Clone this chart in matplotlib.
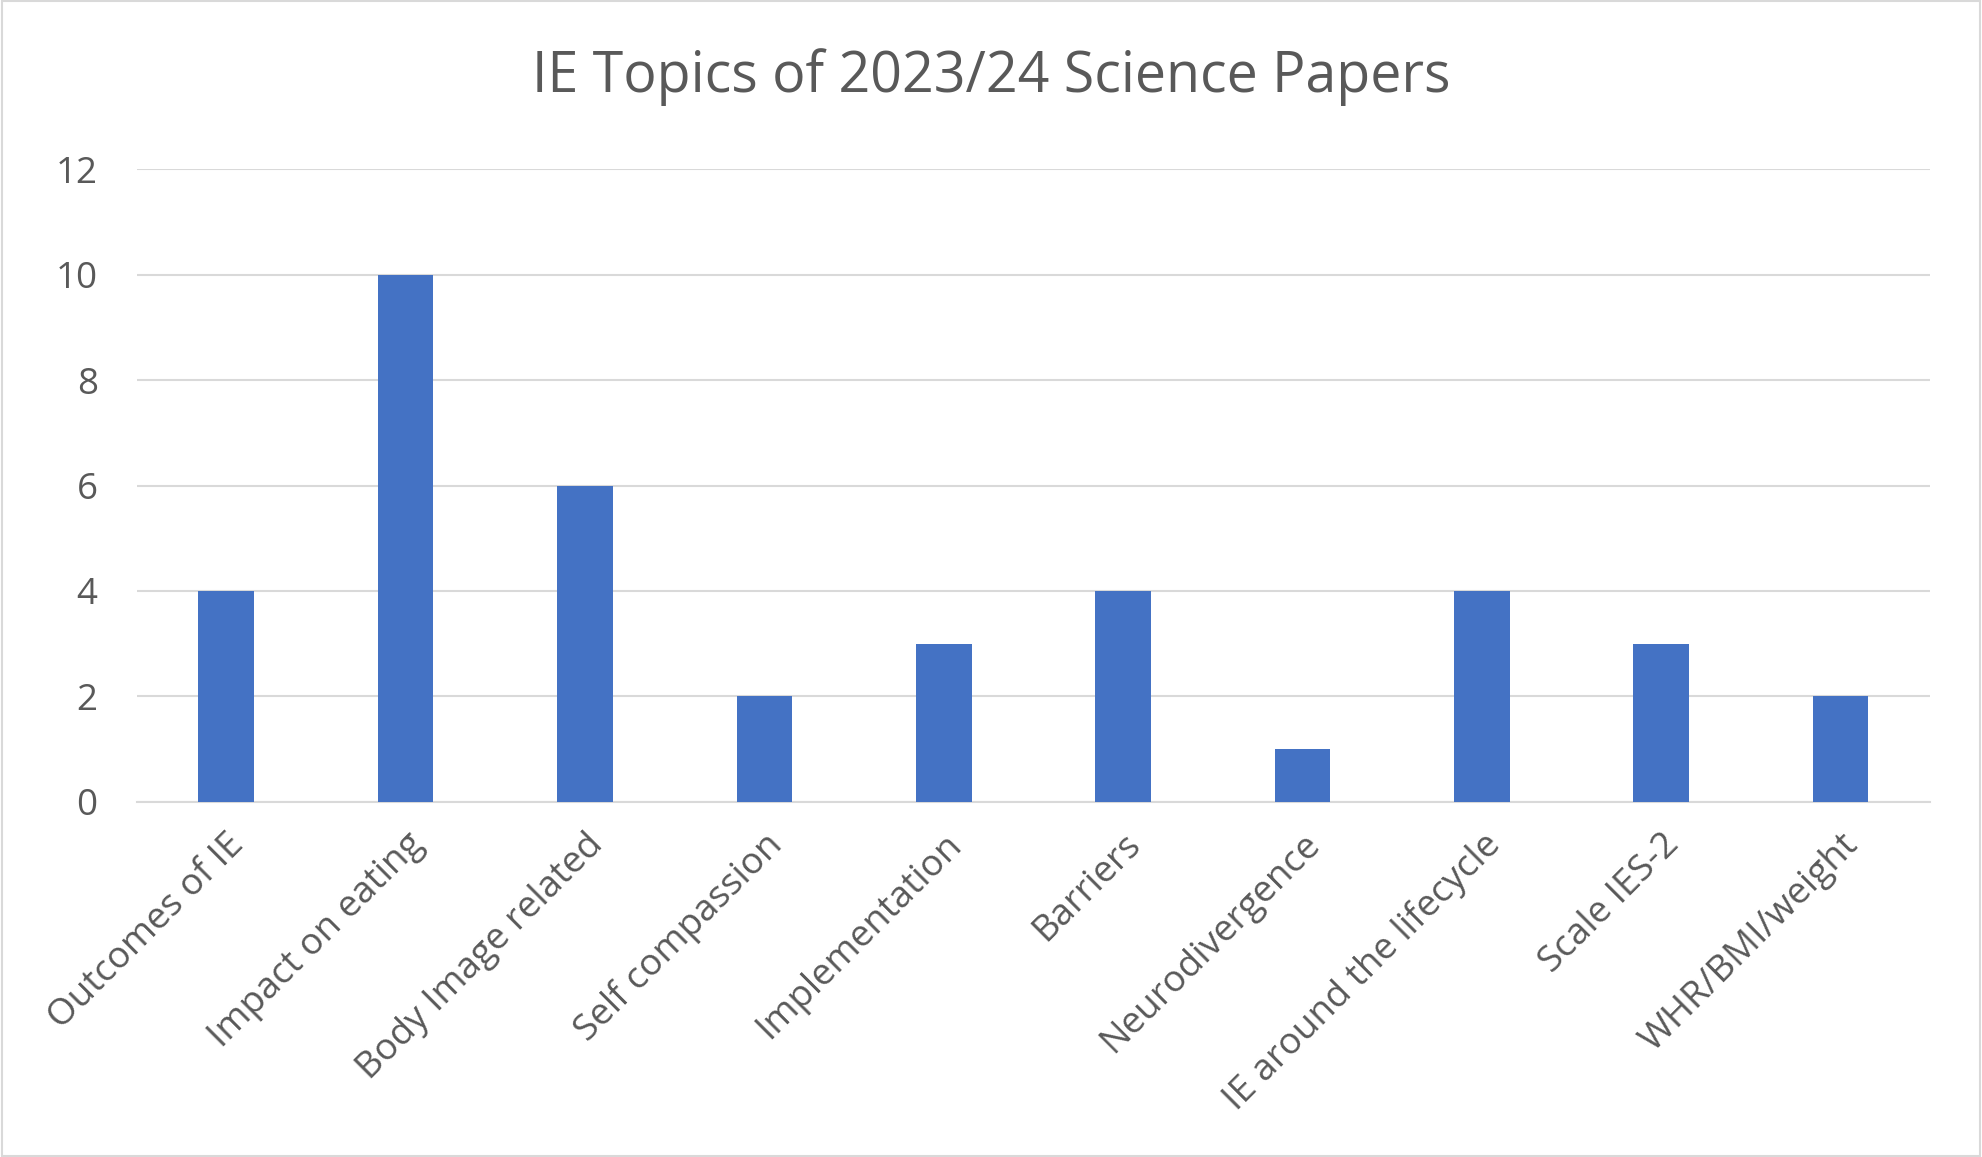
import matplotlib.pyplot as plt
import matplotlib.patches as mpatches

# data
topics = ["Outcomes of IE", "Impact on eating", "Body Image related", "Self compassion",
          "Implementation", "Barriers", "Neurodivergence", "IE around the lifecycle",
          "Scale IES-2", "WHR/BMI/weight"]
counts = [4, 10, 6, 2, 3, 4, 1, 4, 3, 2]
yticks = [0, 2, 4, 6, 8, 10, 12]

plt.rcParams['font.family'] = ['Open Sans', 'DejaVu Sans']
txt = '#595959'

fig = plt.figure(figsize=(19.82, 11.57), dpi=100)
ax = fig.add_axes([0.0689, 0.307, 0.905, 0.5466])

x = range(len(topics))
ax.bar(x, counts, width=0.31, color='#4472C4', zorder=3)
ax.set_xlim(-0.5, len(topics) - 0.5)
ax.set_ylim(0, 12)
ax.set_yticks(yticks)
ax.yaxis.grid(True, color='#D9D9D9', linewidth=1.5, zorder=0)
for s in ['top', 'right', 'left']:
    ax.spines[s].set_visible(False)
ax.spines['bottom'].set_color('#D9D9D9')
ax.spines['bottom'].set_linewidth(1.5)
ax.tick_params(axis='both', length=0, colors=txt, labelsize=26.5)
ax.tick_params(axis='y', pad=28)
ax.set_xticks(list(x))
ax.set_xticklabels(topics, rotation=45, ha='right', rotation_mode='anchor')
ax.tick_params(axis='x', pad=18)

fig.text(0.5, 0.933, "IE Topics of 2023/24 Science Papers", ha='center', va='center',
         fontsize=40, color=txt)

fig.patches.append(mpatches.Rectangle((0.001, 0.001), 0.998, 0.998, transform=fig.transFigure,
                                      fill=False, edgecolor='#D9D9D9', linewidth=1.5))

fig.savefig('out.png', dpi=100)
